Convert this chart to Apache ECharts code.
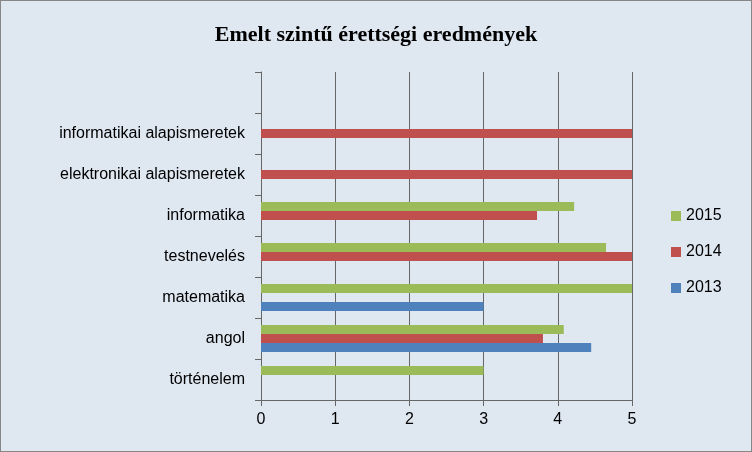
<!DOCTYPE html>
<html><head><meta charset="utf-8">
<script src="https://cdn.jsdelivr.net/npm/echarts@6/dist/echarts.min.js"></script>
<style>html,body{margin:0;padding:0;background:#fff}#c{width:750px;height:450px;border:1px solid #868686}</style>
</head><body><div id="c"></div>
<script>
const categories = ['történelem','angol','matematika','testnevelés','informatika','elektronikai alapismeretek','informatikai alapismeretek',''];
const s2013 = [null, 4.45, 3, null, null, null, null, null];
const s2014 = [null, 3.8, null, 5, 3.72, 5, 5, null];
const s2015 = [3, 4.08, 5, 4.65, 4.22, null, null, null];
const xTicks = [0,1,2,3,4,5];
const chart = echarts.init(document.getElementById('c'));
const lab = {fontFamily:'Liberation Sans', fontSize:16, color:'#000'};
chart.setOption({
  backgroundColor:'#dfe7f1',
  animation:false,
  title:{text:'Emelt szintű érettségi eredmények', left:'center', top:18,
    textStyle:{fontFamily:'Liberation Serif', fontWeight:'bold', fontSize:22, color:'#000'}},
  grid:{left:260, right:119, top:71, bottom:51},
  legend:{orient:'vertical', left:665, top:202, itemGap:20, itemWidth:10, itemHeight:10,
    data:['2015','2014','2013'], textStyle:lab, icon:'rect'},
  xAxis:{type:'value', min:xTicks[0], max:xTicks[xTicks.length-1], interval:1,
    axisLabel:Object.assign({margin:12},lab),
    axisLine:{show:true, lineStyle:{color:'#666'}},
    axisTick:{show:true, length:6, lineStyle:{color:'#666'}},
    splitLine:{lineStyle:{color:'#666'}}},
  yAxis:{type:'category', data:categories, axisLabel:Object.assign({margin:16},lab),
    axisLine:{lineStyle:{color:'#666'}},
    axisTick:{show:true, length:6, lineStyle:{color:'#666'}}},
  series:[
    {name:'2015', type:'bar', data:s2015, barWidth:9, barGap:'0%', itemStyle:{color:'#9BBB59'}},
    {name:'2014', type:'bar', data:s2014, barWidth:9, barGap:'0%', itemStyle:{color:'#C0504D'}},
    {name:'2013', type:'bar', data:s2013, barWidth:9, barGap:'0%', itemStyle:{color:'#4F81BD'}}
  ]
});
</script></body></html>
